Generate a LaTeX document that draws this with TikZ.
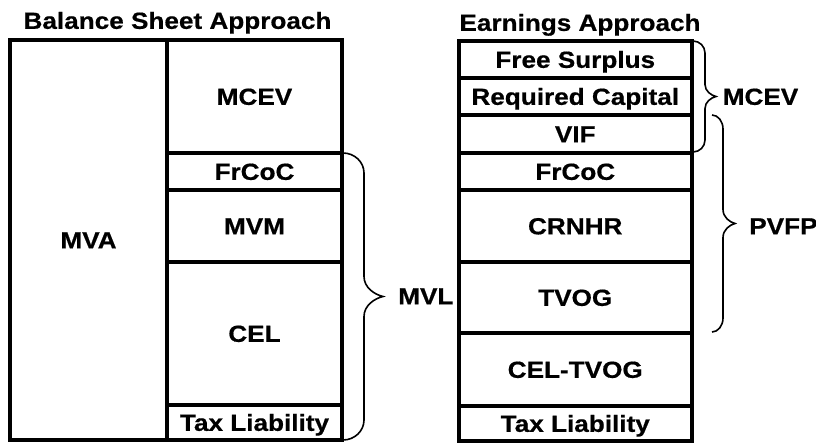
\documentclass[tikz,border=0pt]{standalone}
\usepackage{fontspec}
\setmainfont{Liberation Sans}[FakeStretch=1.12, BoldFeatures={FakeBold=0.6}]
\newcommand\cellnode[6]{%
  \node[cell, minimum width={(#4-#2)*0.75pt}, minimum height={(#5-#3)*0.75pt}]
    (#1) at ({(#2+#4)/2},{(#3+#5)/2}) {#6};}
% x, y1, y2, arm offset, tip offset, corner size
\newcommand\mybrace[6]{%
  \pgfmathsetmacro\bracemid{(#2+#3)/2}%
  \draw[brc] (#1,#2) .. controls +(0.55*#4,0) and +(0,-0.55*#6) .. (#1+#4,#2+#6)
    -- (#1+#4,\bracemid-#6)
    .. controls +(0,0.55*#6) and +(-0.45*#5+0.45*#4,-0.1*#6) .. (#1+#5,\bracemid)
    .. controls +(-0.45*#5+0.45*#4,0.1*#6) and +(0,-0.55*#6) .. (#1+#4,\bracemid+#6)
    -- (#1+#4,#3-#6)
    .. controls +(0,0.55*#6) and +(0.55*#4,0) .. (#1,#3);}
\begin{document}
\begin{tikzpicture}[x=0.75pt,y=-0.75pt,
  txt/.style={font=\bfseries\fontsize{17.5}{19}\selectfont, inner sep=0pt,
    text height=12.5pt, text depth=0pt},
  cell/.style={txt, draw, line width=3pt, rectangle},
  lbl/.style={txt},
  brc/.style={line width=1.2pt}]
\useasboundingbox (0,0) rectangle (816,443);
% titles
\node[lbl] (t1) at (177.5,20.5) {Balance Sheet Approach};
\node[lbl] (t2) at (580,22.5) {Earnings Approach};
% balance sheet approach
\cellnode{mva}{10}{40}{167}{440}{MVA}
\cellnode{mcevL}{167}{40}{342}{153}{MCEV}
\cellnode{frcocL}{167}{153}{342}{190}{FrCoC}
\cellnode{mvm}{167}{190}{342}{262}{MVM}
\cellnode{cel}{167}{262}{342}{405}{CEL}
\cellnode{taxL}{167}{405}{342}{440}{Tax Liability}
% earnings approach
\cellnode{fs}{458.5}{41}{692}{78}{Free Surplus}
\cellnode{rc}{458.5}{78}{692}{115}{Required Capital}
\cellnode{vif}{458.5}{115}{692}{153}{VIF}
\cellnode{frcocR}{458.5}{153}{692}{190}{FrCoC}
\cellnode{crnhr}{458.5}{190}{692}{262}{CRNHR}
\cellnode{tvog}{458.5}{262}{692}{333}{TVOG}
\cellnode{celtvog}{458.5}{333}{692}{406}{CEL-TVOG}
\cellnode{taxR}{458.5}{406}{692}{441}{Tax Liability}
% braces
\mybrace{343}{153}{440}{21}{40}{20}
\mybrace{693}{41}{152}{12}{23}{12}
\mybrace{712}{115}{332}{11}{23}{14}
% brace labels
\node[lbl, anchor=west] (mvl) at (398,296) {MVL};
\node[lbl, anchor=west] (mcevR) at (722.5,96.5) {MCEV};
\node[lbl, anchor=west] (pvfp) at (749,226) {PVFP};
\end{tikzpicture}
\end{document}
